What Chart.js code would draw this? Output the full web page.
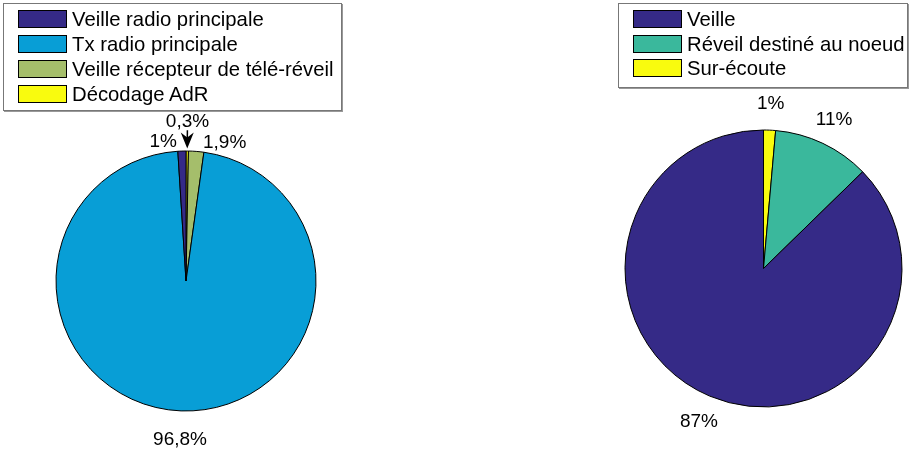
<!DOCTYPE html>
<html>
<head>
<meta charset="utf-8">
<script src="https://cdn.jsdelivr.net/npm/chart.js@4.4.1/dist/chart.umd.min.js"></script>
<style>
  body { margin: 0; background: #fff; font-family: "Liberation Sans", Arial, sans-serif; }
  #wrap { position: relative; width: 910px; height: 451px; overflow: hidden; }
  .pane { position: absolute; top: 0; width: 455px; height: 451px; }
  .legend { position: absolute; border: 1px solid #777; box-shadow: 1px 1px 0 #999; background: #fff; z-index: 2; }
  .legend .row { position: absolute; left: 14px; height: 18px; font-size: 20.3px; line-height: 18px; color: #000; white-space: nowrap; }
  .legend .sw { display: inline-block; width: 47px; height: 16px; border: 1px solid #000; vertical-align: top; margin-right: 5px; }
</style>
</head>
<body>
<div id="wrap">
  <div class="pane" style="left:0"><canvas id="pieLeft" width="455" height="451"></canvas></div>
  <div class="pane" style="left:455px"><canvas id="pieRight" width="455" height="451"></canvas></div>
  <div class="legend" id="legLeft" style="left:3px;top:3px;width:337px;height:106px"></div>
  <div class="legend" id="legRight" style="left:618px;top:3px;width:288px;height:83px"></div>
</div>
<script>
// left pie
var leftLabels = ['Veille radio principale', 'Tx radio principale', 'Veille récepteur de télé-réveil', 'Décodage AdR'];
var leftValues = [1, 96.8, 1.9, 0.3];
var leftColors = ['#352a87', '#089ed6', '#a5be6b', '#f9fb0e'];

// right pie
var rightLabels = ['Veille', 'Réveil destiné au noeud', 'Sur-écoute'];
var rightValues = [87.3, 11.3, 1.4];
var rightColors = ['#352a87', '#3ab89c', '#f9fb0e'];

function fmtPct(v, round) {
    var n = round ? Math.round(v) : v;
    return String(n).replace('.', ',') + '%';
}

function buildLegend(id, labels, colors, step) {
    var box = document.getElementById(id);
    labels.forEach(function (lab, i) {
        var row = document.createElement('div');
        row.className = 'row';
        row.style.top = (6 + i * step) + 'px';
        row.innerHTML = '<span class="sw" style="background:' + colors[i] + '"></span>' + lab;
        box.appendChild(row);
    });
}
buildLegend('legLeft', leftLabels, leftColors, 25);
buildLegend('legRight', rightLabels, rightColors, 24.5);

// MATLAB draws counter-clockwise from the top, Chart.js clockwise: reverse the order
function rev(a) { return a.slice().reverse(); }

var pctLabels = {
    id: 'pctLabels',
    afterDatasetsDraw: function (chart, args, opts) {
        var ctx = chart.ctx;
        var arcs = chart.getDatasetMeta(0).data;
        ctx.save();
        ctx.font = '19px "Liberation Sans", Arial, sans-serif';
        ctx.fillStyle = '#000';
        ctx.textBaseline = 'middle';
        arcs.forEach(function (arc, i) {
            var p = opts.place[i] || {};
            var mid = (arc.startAngle + arc.endAngle) / 2;
            var k = p.k || 1.2;
            var x = arc.x + Math.cos(mid) * arc.outerRadius * k;
            var y = arc.y + Math.sin(mid) * arc.outerRadius * k;
            ctx.textAlign = p.align || 'center';
            if (p.dx !== undefined) x = arc.x + p.dx;
            ctx.fillText(opts.texts[i], x, y);
            if (p.arrow) {
                var x0 = arc.x + Math.cos(mid) * arc.outerRadius * 1.16;
                var y0 = arc.y + Math.sin(mid) * arc.outerRadius * 1.16;
                var x1 = arc.x + Math.cos(mid) * arc.outerRadius * 1.02;
                var y1 = arc.y + Math.sin(mid) * arc.outerRadius * 1.02;
                ctx.strokeStyle = '#000';
                ctx.lineWidth = 1.5;
                ctx.beginPath();
                ctx.moveTo(x0, y0);
                ctx.lineTo(x1, y1 - 8);
                ctx.stroke();
                ctx.beginPath();
                ctx.moveTo(x1, y1);
                ctx.lineTo(x1 - 6.5, y1 - 16);
                ctx.lineTo(x1, y1 - 11);
                ctx.lineTo(x1 + 6.5, y1 - 16);
                ctx.closePath();
                ctx.fill();
            }
        });
        ctx.restore();
    }
};

function makePie(canvasId, values, colors, radius, padding, texts, place) {
    var ctx = document.getElementById(canvasId).getContext('2d');
    return new Chart(ctx, {
        type: 'pie',
        data: {
            datasets: [{
                data: rev(values),
                backgroundColor: rev(colors),
                borderColor: '#000',
                borderWidth: 1
            }]
        },
        options: {
            responsive: false,
            animation: false,
            radius: radius,
            layout: { padding: padding },
            plugins: {
                legend: { display: false },
                tooltip: { enabled: false },
                pctLabels: { texts: rev(texts), place: place }
            }
        },
        plugins: [pctLabels]
    });
}

makePie('pieLeft', leftValues, leftColors, 130,
    { left: 56, right: 139, top: 151, bottom: 40 },
    leftValues.map(function (v) { return fmtPct(v, false); }),
    // reversed order: AdR, télé-réveil, Tx, Veille radio
    [{ k: 1.225, arrow: true }, { k: 1.07, align: 'left', dx: 17 }, { k: 1.225 }, { k: 1.07, align: 'right', dx: -9 }]);

makePie('pieRight', rightValues, rightColors, 138.5,
    { left: 170, right: 8, top: 130, bottom: 44 },
    rightValues.map(function (v) { return fmtPct(v, true); }),
    [{ k: 1.19 }, { k: 1.19 }, { k: 1.2 }]);
</script>
</body>
</html>
